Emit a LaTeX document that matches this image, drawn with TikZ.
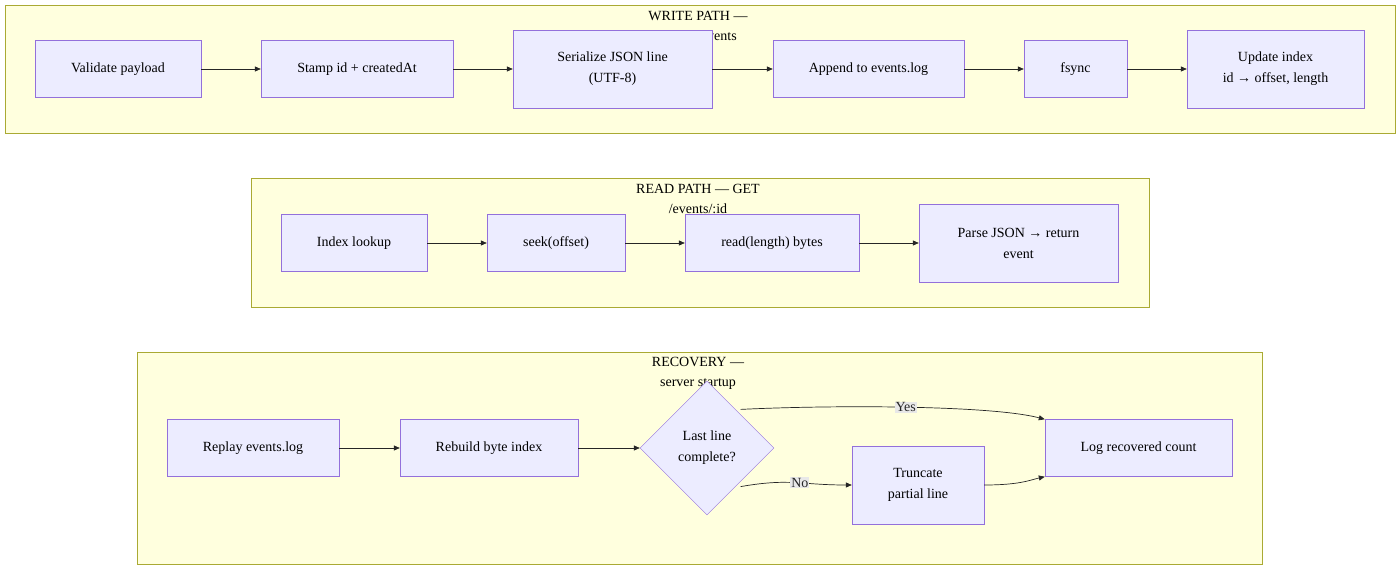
\documentclass[tikz,border=0pt]{standalone}
\usepackage{fontspec}
\setmainfont{Liberation Serif}
\usetikzlibrary{shapes.geometric,arrows.meta}
\definecolor{boxfill}{HTML}{ECECFF}
\definecolor{boxline}{HTML}{9370DB}
\definecolor{grpfill}{HTML}{FFFFDE}
\definecolor{grpline}{HTML}{AAAA33}
\definecolor{lblfill}{HTML}{E8E8E8}
\tikzset{
    box/.style={draw=boxline, fill=boxfill, align=center, inner sep=0pt,
        font=\fontsize{14}{21}\selectfont},
    grp/.style={draw=grpline, fill=grpfill},
    ttl/.style={align=center, font=\fontsize{14}{20}\selectfont},
    lbl/.style={fill=lblfill, inner sep=1pt, font=\fontsize{14}{16}\selectfont},
    flow/.style={-{Triangle[length=6pt,width=5pt]}, black!85, line width=0.7pt}
}
\begin{document}
\begin{tikzpicture}[x=1pt, y=-1pt]
    \useasboundingbox (0,0) rectangle (1400,569);

    % Write path
    \draw[grp] (5,5) rectangle (1395,133);
    \node[ttl] (wt) at (698,26) {WRITE PATH —\\POST /events};
    \node[box, minimum width=166pt, minimum height=57pt] (validate) at (118,69) {Validate payload};
    \node[box, minimum width=192pt, minimum height=57pt] (stamp) at (357,69) {Stamp id + createdAt};
    \node[box, minimum width=199pt, minimum height=78pt] (serial) at (612.5,69) {Serialize JSON line\\(UTF-8)};
    \node[box, minimum width=191pt, minimum height=57pt] (append) at (868.5,69) {Append to events.log};
    \node[box, minimum width=103pt, minimum height=57pt] (fsync) at (1075.5,69) {fsync};
    \node[box, minimum width=177pt, minimum height=78pt] (update) at (1275.5,69) {Update index\\id → offset, length};
    \draw[flow] (validate) -- (stamp);
    \draw[flow] (stamp) -- (serial);
    \draw[flow] (serial) -- (append);
    \draw[flow] (append) -- (fsync);
    \draw[flow] (fsync) -- (update);

    % Read path
    \draw[grp] (251,178) rectangle (1149,307);
    \node[ttl] (rt) at (698,199) {READ PATH — GET\\/events/:id};
    \node[box, minimum width=146pt, minimum height=57pt] (lookup) at (354,243) {Index lookup};
    \node[box, minimum width=138pt, minimum height=57pt] (seek) at (556,243) {seek(offset)};
    \node[box, minimum width=174pt, minimum height=57pt] (readb) at (772,243) {read(length) bytes};
    \node[box, minimum width=199pt, minimum height=78pt] (parse) at (1018.5,243) {Parse JSON → return\\event};
    \draw[flow] (lookup) -- (seek);
    \draw[flow] (seek) -- (readb);
    \draw[flow] (readb) -- (parse);

    % Recovery
    \draw[grp] (137,352) rectangle (1262,564);
    \node[ttl] (ct) at (698,373) {RECOVERY —\\server startup};
    \node[box, minimum width=172pt, minimum height=57pt] (replay) at (253,448) {Replay events.log};
    \node[box, minimum width=178pt, minimum height=57pt] (rebuild) at (489,448) {Rebuild byte index};
    \node[box, diamond, aspect=1, minimum width=134pt, minimum height=134pt] (check) at (707,448) {Last line\\complete?};
    \node[box, minimum width=132pt, minimum height=78pt] (trunc) at (918,485) {Truncate\\partial line};
    \node[box, minimum width=187pt, minimum height=57pt] (logc) at (1138.5,448) {Log recovered count};
    \draw[flow] (replay) -- (rebuild);
    \draw[flow] (rebuild) -- (check);
    \draw[flow] (check.north east) ++(0,-5) .. controls (830,405) and (990,405) .. (logc.north west)
        node[lbl, pos=0.5] {Yes};
    \draw[flow] (check.south east) ++(0,5) .. controls (790,478) and (800,485) .. (trunc.west)
        node[lbl, pos=0.55] {No};
    \draw[flow] (trunc.east) .. controls (1020,485) and (1030,480) .. (logc.south west);
\end{tikzpicture}
\end{document}
